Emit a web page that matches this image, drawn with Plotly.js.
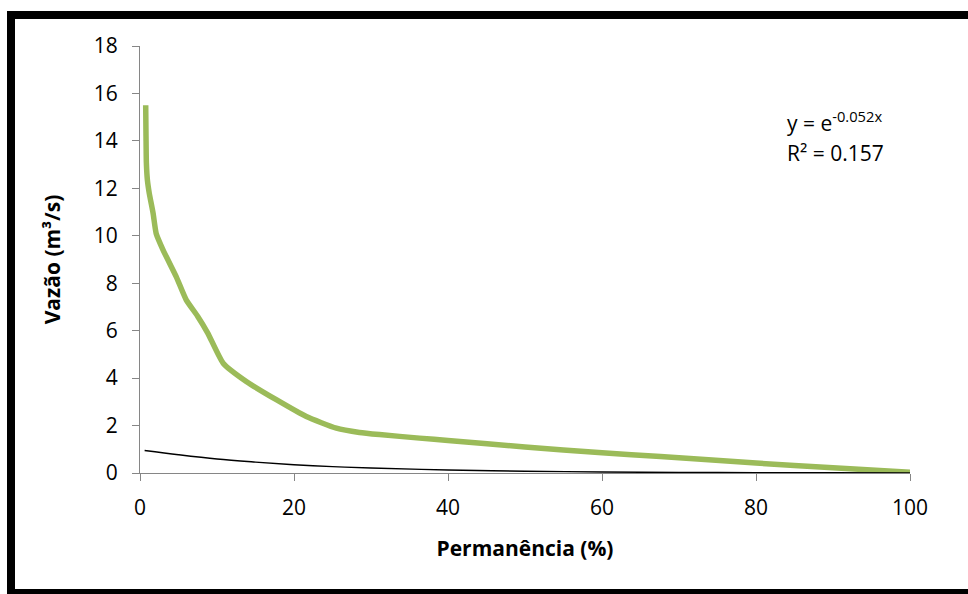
<!DOCTYPE html>
<html>
<head>
<meta charset="utf-8">
<script src="https://cdn.plot.ly/plotly-3.0.1.min.js"></script>
<style>
html,body{margin:0;padding:0;background:#fff;overflow:hidden;}
#chart{width:968px;height:594px;}
#frame{position:absolute;left:7px;top:11px;width:980px;height:600px;border-left:8px solid #000;border-top:8px solid #000;box-sizing:border-box;pointer-events:none;}
#frameb{position:absolute;left:7px;top:589px;width:980px;height:6px;background:#000;pointer-events:none;}
</style>
</head>
<body>
<div id="chart"></div>
<div id="frame"></div>
<div id="frameb"></div>
<script>
// Flow duration curve
const permanencia = [0.74, 0.78, 0.83, 0.96, 1.2, 1.7, 2.1, 3.0, 4.7, 6.0, 7.5, 8.8, 10.8, 13.8, 17.7, 21.6, 25.5, 28.5, 31.1, 36.3, 40, 50, 60, 67.6, 80, 90, 100];
const vazao       = [15.5, 14.2, 13.05, 12.35, 11.8, 10.95, 10.1, 9.4, 8.28, 7.3, 6.6, 5.9, 4.63, 3.86, 3.09, 2.38, 1.89, 1.71, 1.62, 1.47, 1.37, 1.10, 0.85, 0.70, 0.42, 0.22, 0.03];

// Exponential trend line
const trendX = [0.6, 5, 10, 15, 20, 25, 30, 40, 50, 60, 70, 80, 90, 100];
const trendY = [0.95, 0.77, 0.59, 0.46, 0.35, 0.27, 0.21, 0.125, 0.074, 0.044, 0.026, 0.016, 0.009, 0.006];

const xTicks = [0, 20, 40, 60, 80, 100];
const yTicks = [0, 2, 4, 6, 8, 10, 12, 14, 16, 18];

const eqLine1 = 'y = e<sup>-0.052x</sup>';
const eqLine2 = 'R² = 0.157';

const FONT = 'Open Sans, Liberation Sans, sans-serif';

const traces = [
  {x: permanencia, y: vazao, mode: 'lines', line: {color: '#9BBB59', width: 5.5, shape: 'spline', smoothing: 0.5}, hoverinfo: 'skip'},
  {x: trendX, y: trendY, mode: 'lines', line: {color: '#000000', width: 1.4, shape: 'spline'}, hoverinfo: 'skip'}
];

const layout = {
  width: 968, height: 594,
  margin: {l: 140, r: 58, t: 46, b: 121},
  paper_bgcolor: '#ffffff', plot_bgcolor: '#ffffff',
  showlegend: false,
  font: {family: FONT, color: '#000', size: 21},
  xaxis: {
    range: [0, 100], tickvals: xTicks, ticktext: xTicks.map(String),
    showgrid: false, zeroline: false, showline: true, linecolor: '#868686', linewidth: 1,
    ticks: 'outside', ticklen: 7, tickcolor: '#868686', tickwidth: 1,
    tickfont: {family: FONT, size: 21, color: '#000'}, ticklabelstandoff: 9,
    title: {text: '<b>Permanência (%)</b>', font: {family: FONT, size: 21, color: '#000'}, standoff: 21}
  },
  yaxis: {
    range: [0, 18], tickvals: yTicks, ticktext: yTicks.map(String),
    showgrid: false, zeroline: false, showline: true, linecolor: '#868686', linewidth: 1,
    ticks: 'outside', ticklen: 7, tickcolor: '#868686', tickwidth: 1,
    tickfont: {family: FONT, size: 21, color: '#000'}, ticklabelstandoff: 10,
    title: {text: '<b>Vazão (m³/s)</b>', font: {family: FONT, size: 21, color: '#000'}, standoff: 27}
  },
  annotations: [
    {x: 83.8, y: 14.8, xref: 'x', yref: 'y', text: eqLine1, showarrow: false, xanchor: 'left', yanchor: 'middle', font: {family: FONT, size: 21, color: '#000'}},
    {x: 83.8, y: 13.5, xref: 'x', yref: 'y', text: eqLine2, showarrow: false, xanchor: 'left', yanchor: 'middle', font: {family: FONT, size: 21, color: '#000'}}
  ]
};

Plotly.newPlot('chart', traces, layout, {staticPlot: true, displayModeBar: false});
</script>
</body>
</html>
